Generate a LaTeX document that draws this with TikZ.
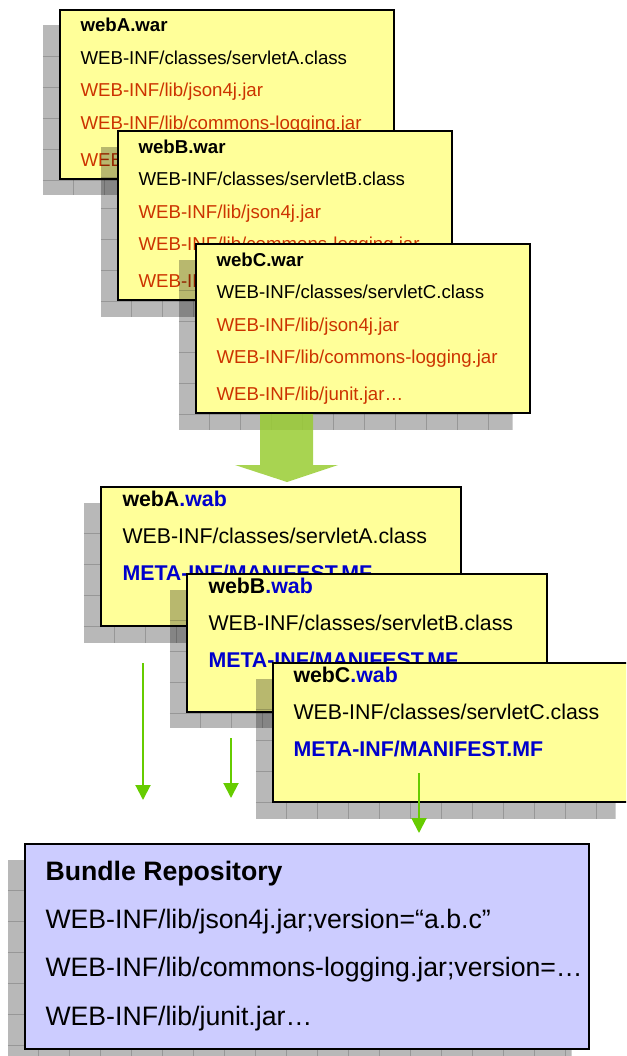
\documentclass[tikz,border=0pt]{standalone}
\usepackage{fontspec}
\setmainfont{Liberation Sans}
\usetikzlibrary{arrows.meta}

\definecolor{noteyellow}{RGB}{255,255,153}
\definecolor{jarred}{RGB}{204,51,0}
\definecolor{wabblue}{RGB}{0,0,204}
\definecolor{repolilac}{RGB}{204,204,255}
\definecolor{flowgreen}{RGB}{102,204,0}
\definecolor{bigarrowgreen}{RGB}{153,204,51}

\tikzset{every picture/.style={line width=0.75pt}}
\tikzset{
  warbox/.style={draw=black, line width=1.5pt, fill=noteyellow, anchor=north west, inner sep=0pt, minimum width=250.5pt, minimum height=126.75pt},
  wabbox/.style={warbox, minimum width=270pt, minimum height=104.25pt},
  repobox/.style={warbox, fill=repolilac, minimum width=423pt, minimum height=153.75pt},
  shadowfill/.style={fill=black, fill opacity=0.28},
  shadowgrid/.style={draw=black, draw opacity=0.18, line width=0.75pt},
  wartext/.style={anchor=base west, inner sep=0pt, font=\fontsize{14}{16}\selectfont},
  warhead/.style={wartext, font=\fontsize{14}{16}\selectfont\bfseries},
  jartext/.style={wartext, text=jarred},
  wabtext/.style={anchor=base west, inner sep=0pt, font=\fontsize{16}{19}\selectfont},
  wabhead/.style={wabtext, font=\fontsize{16}{19}\selectfont\bfseries},
  mftext/.style={wabhead, text=wabblue},
  repotext/.style={anchor=base west, inner sep=0pt, font=\fontsize{20}{24}\selectfont},
  repohead/.style={repotext, font=\fontsize{20}{24}\selectfont\bfseries},
  flowarrow/.style={draw=flowgreen, line width=1.5pt, -{Triangle[length=11.25pt,width=11.25pt]}},
}

% shadow with grid below a box: x, y (top left of the box), width, height
\newcommand{\dropshade}[4]{%
  \begin{scope}
    \clip (#1-16.5,#2+16.5) rectangle ++(#3,#4);
    \fill[shadowfill] (#1-16.5,#2+16.5) rectangle ++(#3,#4);
    \foreach \k in {1,...,18} {
      \draw[shadowgrid] (#1-16.5+31*\k,#2+16.5) -- ++(0,#4);
      \draw[shadowgrid] (#1-16.5,#2+16.5+31*\k) -- ++(#3,0);
    }
  \end{scope}}

\begin{document}
\begin{tikzpicture}[x=0.75pt,y=0.75pt,yscale=-1,xscale=1]
\useasboundingbox (0,0) rectangle (626,1056);
\clip (0,0) rectangle (626,1056);

%Shape: Rectangle webA.war
\dropshade{59}{9}{334}{169}
\node[warbox] (warA) at (59,9) {};
% Text Node
\node[warhead] (warAname) at (80,32) {webA.war};
\node[wartext] (warAcls) at (80,64.5) {WEB-INF/classes/servletA.class};
\node[jartext] (warAjson) at (80,97) {WEB-INF/lib/json4j.jar};
\node[jartext] (warAlog) at (80,129.5) {WEB-INF/lib/commons-logging.jar};
\node[jartext] (warAjunit) at (80,166.5) {WEB-INF/lib/junit.jar…};

%Shape: Rectangle webB.war
\dropshade{117}{130}{334}{170}
\node[warbox] (warB) at (117,130) {};
% Text Node
\node[warhead] (warBname) at (138,153) {webB.war};
\node[wartext] (warBcls) at (138,185.5) {WEB-INF/classes/servletB.class};
\node[jartext] (warBjson) at (138,218) {WEB-INF/lib/json4j.jar};
\node[jartext] (warBlog) at (138,250.5) {WEB-INF/lib/commons-logging.jar};
\node[jartext] (warBjunit) at (138,287.5) {WEB-INF/lib/junit.jar…};

%Shape: Rectangle webC.war
\dropshade{195}{243}{334}{170}
%Shape: Down Arrow
\fill[bigarrowgreen, fill opacity=0.85] (260,405) -- (313,405) -- (313,465) -- (338,465) -- (287,482) -- (235,465) -- (260,465) -- cycle;
\node[warbox] (warC) at (195,243) {};
% Text Node
\node[warhead] (warCname) at (216,266) {webC.war};
\node[wartext] (warCcls) at (216,298.5) {WEB-INF/classes/servletC.class};
\node[jartext] (warCjson) at (216,331) {WEB-INF/lib/json4j.jar};
\node[jartext] (warClog) at (216,363.5) {WEB-INF/lib/commons-logging.jar};
\node[jartext] (warCjunit) at (216,400.5) {WEB-INF/lib/junit.jar…};

%Shape: Rectangle webA.wab
\dropshade{100}{486}{360}{140}
\node[wabbox] (wabA) at (100,486) {};
% Text Node
\node[wabhead] (wabAname) at (122,506) {webA\textcolor{wabblue}{.wab}};
\node[wabtext] (wabAcls) at (122,543) {WEB-INF/classes/servletA.class};
\node[mftext] (wabAmf) at (122,580) {META-INF/MANIFEST.MF};

%Shape: Rectangle webB.wab
\dropshade{186}{573}{360}{138}
\node[wabbox, minimum height=103.5pt] (wabB) at (186,573) {};
% Text Node
\node[wabhead] (wabBname) at (208,593) {webB\textcolor{wabblue}{.wab}};
\node[wabtext] (wabBcls) at (208,630) {WEB-INF/classes/servletB.class};
\node[mftext] (wabBmf) at (208,667) {META-INF/MANIFEST.MF};

%Straight Lines
\coordinate (dropA) at (143,663);
\coordinate (landA) at (143,800);
\coordinate (dropB) at (231,738);
\coordinate (landB) at (231,798);
\draw[flowarrow] (dropA) -- (landA);
\draw[flowarrow] (dropB) -- (landB);

%Shape: Rectangle webC.wab
\dropshade{272}{662}{360}{140}
\node[wabbox] (wabC) at (272,662) {};
% Text Node
\node[wabhead] (wabCname) at (293,682) {webC\textcolor{wabblue}{.wab}};
\node[wabtext] (wabCcls) at (293,719) {WEB-INF/classes/servletC.class};
\node[mftext] (wabCmf) at (293,756) {META-INF/MANIFEST.MF};

%Straight Lines
\coordinate (dropC) at (419,773);
\coordinate (landC) at (419,833);
\draw[flowarrow] (dropC) -- (landC);

%Shape: Rectangle Bundle Repository
\dropshade{24}{843}{564}{205}
\node[repobox] (repo) at (24,843) {};
% Text Node
\node[repohead] (repoName) at (45,880) {Bundle Repository};
\node[repotext] (repoJson) at (45,928) {WEB-INF/lib/json4j.jar;version=“a.b.c”};
\node[repotext] (repoLog) at (45,976) {WEB-INF/lib/commons-logging.jar;version=…};
\node[repotext] (repoJunit) at (45,1025) {WEB-INF/lib/junit.jar…};

\end{tikzpicture}
\end{document}
